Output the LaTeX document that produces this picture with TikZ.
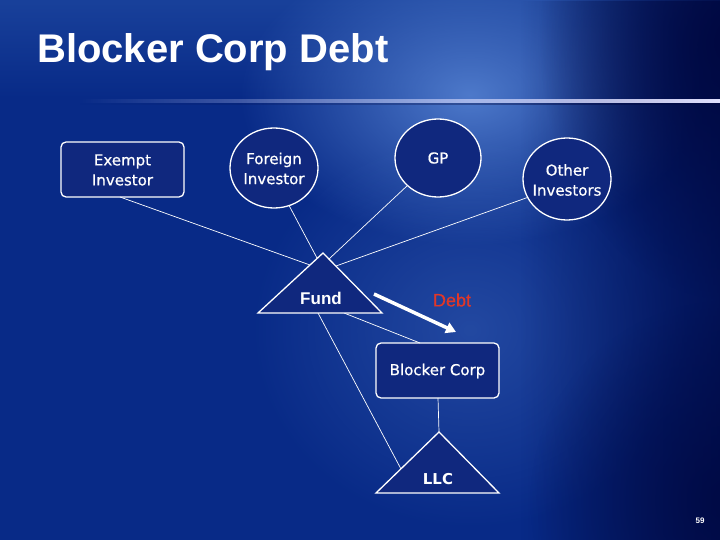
\documentclass[tikz,border=0pt]{standalone}
\usepackage{fontspec}
\setmainfont{DejaVu Sans}
\newfontfamily\lblfont[FakeBold=0.6]{DejaVu Sans}
\newfontfamily\arialf{Liberation Sans}
\newfontfamily\arialfb[FakeBold=0.5]{Liberation Sans}
\usetikzlibrary{fadings,shapes.geometric,arrows.meta}
\tikzfading[name=myglow, inner color=transparent!0, outer color=transparent!100]
\definecolor{bgbase}{RGB}{8,42,135}
\definecolor{bgtop}{RGB}{25,65,155}
\definecolor{glow}{RGB}{85,130,210}
\definecolor{navy}{RGB}{0,8,65}
\definecolor{nodefill}{RGB}{16,40,126}
\definecolor{debtred}{RGB}{225,55,40}
\tikzset{
  entitybox/.style={draw=white, line width=1.3pt, fill=nodefill, rounded corners=5pt},
  entityoval/.style={ellipse, draw=white, line width=1.3pt, fill=nodefill, inner sep=0pt},
  lbl/.style={text=white, align=center, font=\lblfont\fontsize{15}{20}\selectfont},
  conn/.style={draw=white, line width=0.7pt},
  tri/.style={draw=white, line width=1.3pt, fill=nodefill, line join=miter},
}
\begin{document}
\begin{tikzpicture}[x=1pt,y=-1pt]
\useasboundingbox (0,0) rectangle (720,540);
% background
\fill[bgbase] (0,0) rectangle (720,540);
\fill[bgtop, path fading=south] (0,0) rectangle (720,100);
\fill[glow, path fading=myglow, opacity=0.9] (470,95) ellipse (230 and 150);
\fill[glow, path fading=myglow, opacity=0.35] (470,330) ellipse (220 and 200);
\fill[navy, path fading=myglow, opacity=1] (730,40) ellipse (190 and 260);
\fill[navy, path fading=myglow, opacity=0.8] (730,500) ellipse (200 and 200);
\fill[navy, path fading=west, opacity=0.7] (520,0) rectangle (720,540);
% separator
\fill[white!88!blue, path fading=west] (80,99) rectangle (720,103);
\fill[navy, path fading=west, opacity=0.6] (80,103) rectangle (720,105);
% title
\node[anchor=base west, inner sep=0pt, text=white, font=\arialf\bfseries\fontsize{40}{44}\selectfont] (title) at (37,63) {Blocker Corp Debt};

% connection points
\coordinate (fundA) at (323,253);
\coordinate (fundL) at (258,313);
\coordinate (fundR) at (382,313);
\coordinate (llcA) at (439,432);
\coordinate (llcL) at (376,493);
\coordinate (llcR) at (499,493);
\coordinate (fExempt) at (310,265);
\coordinate (fForeign) at (317,258);
\coordinate (fGP) at (329,259);
\coordinate (fOther) at (336,266);
\coordinate (fBotL) at (318,313);
\coordinate (fBotR) at (344,313);
\coordinate (llcIn) at (401,469);
\coordinate (bcTop) at (420,343);
\coordinate (debtS) at (374,294);
\coordinate (debtE) at (456,332);

% nodes
\draw[entitybox] (61,142) rectangle (184,197);
\node[lbl] (exempt) at (122.5,170) {Exempt\\Investor};
\coordinate (exemptS) at (120,197);
\node[entityoval, minimum width=88pt, minimum height=80pt] (foreign) at (274,168) {};
\node[lbl] at (274,168.5) {Foreign\\Investor};
\node[entityoval, minimum width=86pt, minimum height=78pt] (gp) at (438,158) {};
\node[lbl] at (gp) {GP};
\node[entityoval, minimum width=88pt, minimum height=82pt] (other) at (567,179) {};
\node[lbl] at (567,180) {Other\\Investors};
\draw[entitybox] (376,343) rectangle (499,398);
\node[lbl] (blocker) at (437.5,371) {Blocker Corp};
\coordinate (bcBot) at (438,398);

% connectors
\draw[conn] (exemptS) -- (fExempt);
\draw[conn] (foreign.292) -- (fForeign);
\draw[conn] (gp.222) -- (fGP);
\draw[conn] (other.205) -- (fOther);
\draw[conn] (fBotL) -- (llcIn);
\draw[conn] (fBotR) -- (bcTop);
\draw[conn] (bcBot) -- (llcA);

% triangles
\draw[tri] (fundA) -- (fundR) -- (fundL) -- cycle;
\node[text=white, font=\arialf\bfseries\fontsize{17}{18}\selectfont] (fund) at (321,298) {Fund};
\draw[tri] (llcA) -- (llcR) -- (llcL) -- cycle;
\node[text=white, font=\bfseries\fontsize{15}{18}\selectfont] (llc) at (438,479) {LLC};

% debt arrow
\draw[white, line width=3.5pt, -{Triangle[length=10pt,width=11pt]}] (debtS) -- (debtE);
\node[text=debtred, font=\arialfb\fontsize{18}{20}\selectfont] (debt) at (452,300) {Debt};

% page number
\node[text=white, font=\arialf\bfseries\fontsize{8}{9}\selectfont] (page) at (700,521) {59};
\end{tikzpicture}
\end{document}
